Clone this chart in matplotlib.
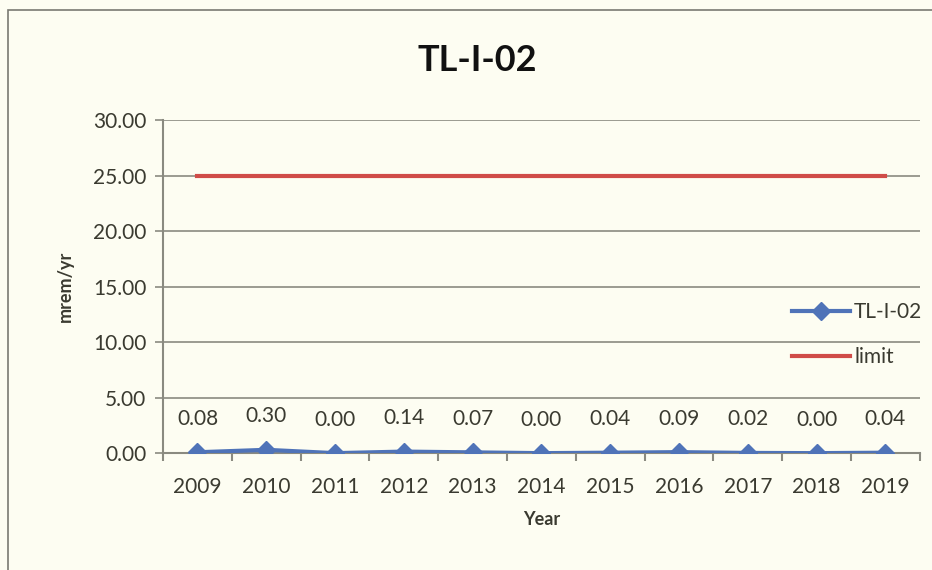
import matplotlib
matplotlib.use("Agg")
import matplotlib.pyplot as plt
from matplotlib.patches import Rectangle

years = ["2009", "2010", "2011", "2012", "2013", "2014", "2015", "2016", "2017", "2018", "2019"]
dose = [0.08, 0.30, 0.00, 0.14, 0.07, 0.00, 0.04, 0.09, 0.02, 0.00, 0.04]
limit = [25.0] * len(years)

bg = "#fdfdf2"
txt = "#3a3a30"
grid_c = "#8a8a80"

plt.rcParams["font.family"] = ["Lato", "DejaVu Sans"]

fig = plt.figure(figsize=(9.32, 5.70), dpi=100, facecolor=bg)
ax = fig.add_axes([0.175, 0.205, 0.812, 0.584], facecolor=bg)

# cadre autour du graphique
fig.patches.append(Rectangle((0.009, -0.05), 1.05, 1.032, transform=fig.transFigure,
                             fill=False, edgecolor="#7a7a72", linewidth=1.2))

x = list(range(len(years)))
ax.plot(x, dose, color="#4f73b8", linewidth=3, marker="D", markersize=9,
        label="TL-I-02", zorder=3)
ax.plot(x, limit, color="#d04c48", linewidth=3, label="limit", zorder=3)

for xi, v in zip(x, dose):
    ax.annotate(f"{v:.2f}", (xi, v), xytext=(0, 17), textcoords="offset points",
                ha="center", va="bottom", fontsize=15, color=txt)

ax.set_xlim(-0.5, len(years) - 0.5)
ax.set_ylim(0, 30)
ax.set_yticks([0, 5, 10, 15, 20, 25, 30])
ax.set_yticklabels([f"{v:.2f}" for v in [0, 5, 10, 15, 20, 25, 30]])
ax.set_xticks(x)
ax.set_xticklabels(years)
ax.set_xticks([i - 0.5 for i in range(len(years) + 1)], minor=True)
ax.tick_params(axis="x", which="major", length=0, pad=17, labelsize=15, labelcolor=txt)
ax.tick_params(axis="x", which="minor", length=6, width=1.5, color=grid_c, direction="out")
ax.tick_params(axis="y", length=6, width=1.2, color=grid_c, labelsize=15, labelcolor=txt, pad=6)

ax.yaxis.grid(True, color=grid_c, linewidth=1.2)
ax.set_axisbelow(True)
for s in ["top", "right"]:
    ax.spines[s].set_visible(False)
ax.spines["left"].set_color(grid_c)
ax.spines["left"].set_linewidth(1.5)
ax.spines["bottom"].set_color(grid_c)
ax.spines["bottom"].set_linewidth(1.5)

ax.set_ylabel("mrem/yr", fontsize=13, fontweight="bold", color=txt, labelpad=14)
ax.set_xlabel("Year", fontsize=13, fontweight="bold", color=txt, labelpad=10)
fig.text(0.512, 0.893, "TL-I-02", ha="center", va="center", fontsize=26,
         fontweight="bold", color="#111111")

ax.legend(loc="center right", bbox_to_anchor=(1.028, 0.355), frameon=False,
          fontsize=15, labelcolor=txt, handlelength=2.8, handletextpad=0.2,
          labelspacing=1.2)

fig.savefig("out.png", dpi=100, facecolor=bg)
